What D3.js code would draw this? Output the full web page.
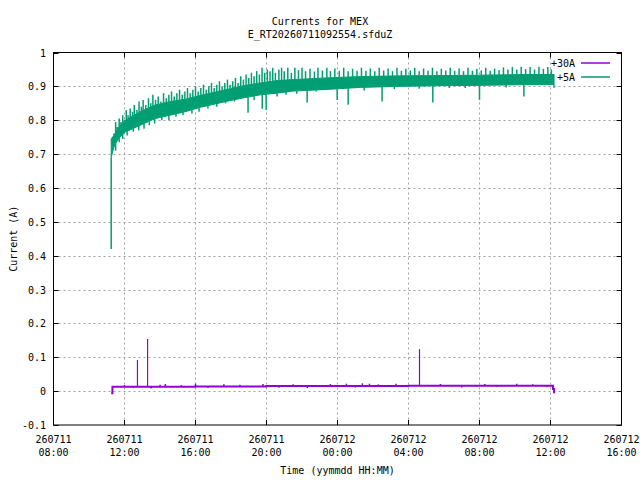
<!DOCTYPE html>
<html>
<head>
<meta charset="utf-8">
<script src="https://cdn.jsdelivr.net/npm/d3@7"></script>
<style>
  body { margin: 0; background: #fff; }
  text { font-family: "DejaVu Sans Mono", monospace; font-size: 10px; fill: #000; }
</style>
</head>
<body>
<svg id="chart" width="640" height="480"></svg>
<script>
// hours since 260711 00:00
const xTicks = [8, 12, 16, 20, 24, 28, 32, 36, 40];
const yTicks = [-0.1, 0, 0.1, 0.2, 0.3, 0.4, 0.5, 0.6, 0.7, 0.8, 0.9, 1];

// +5A: dense band (solid core) plus the spikes sticking out of it
const coreT  = [11.25, 11.4, 11.65, 12.04, 12.88, 13.73, 14.57, 15.42, 16.26, 17.11, 17.95, 18.8, 19.65, 20.6, 21.5, 23.4, 25.3, 27.5, 30, 32, 34.5, 36.2];
const coreLo = [0.69, 0.72, 0.745, 0.765, 0.785, 0.805, 0.815, 0.825, 0.838, 0.848, 0.858, 0.867, 0.875, 0.88, 0.886, 0.891, 0.897, 0.90, 0.902, 0.903, 0.905, 0.905];
const coreHi = [0.745, 0.755, 0.78, 0.80, 0.825, 0.845, 0.855, 0.862, 0.873, 0.883, 0.893, 0.903, 0.91, 0.917, 0.92, 0.925, 0.929, 0.931, 0.932, 0.933, 0.935, 0.935];

const greenUp = [
  [11.4, 0.76], [11.5, 0.795], [11.58, 0.78], [11.7, 0.805], [11.8, 0.795], [11.9, 0.815], [12.0, 0.80],
  [12.1, 0.83], [12.2, 0.815], [12.32, 0.835], [12.45, 0.825], [12.55, 0.845], [12.7, 0.83], [12.82, 0.855],
  [12.95, 0.84], [13.05, 0.86], [13.2, 0.845], [13.35, 0.865], [13.48, 0.85], [13.6, 0.875], [13.75, 0.86],
  [13.9, 0.87], [14.05, 0.855], [14.2, 0.88], [14.35, 0.865], [14.5, 0.875], [14.65, 0.885], [14.8, 0.87],
  [14.95, 0.88], [15.1, 0.89], [15.25, 0.875], [15.4, 0.885], [15.55, 0.895], [15.7, 0.88], [15.85, 0.89],
  [16.0, 0.90], [16.15, 0.885], [16.3, 0.895], [16.45, 0.905], [16.6, 0.89], [16.75, 0.90], [16.9, 0.91],
  [17.05, 0.895], [17.2, 0.905], [17.35, 0.915], [17.5, 0.90], [17.65, 0.91], [17.8, 0.92], [17.95, 0.905],
  [18.1, 0.915], [18.25, 0.925], [18.4, 0.91], [18.55, 0.93], [18.7, 0.92], [18.85, 0.935], [19.0, 0.925],
  [19.15, 0.94], [19.3, 0.93], [19.45, 0.945], [19.6, 0.935], [19.75, 0.955], [19.9, 0.94], [20.05, 0.95],
  [20.2, 0.945], [20.35, 0.955], [20.5, 0.94], [20.7, 0.95], [20.85, 0.955], [21.0, 0.945], [21.2, 0.955],
  [21.4, 0.94], [21.6, 0.955], [21.8, 0.948], [22.0, 0.955], [22.2, 0.945], [22.45, 0.952], [22.7, 0.944],
  [22.9, 0.955], [23.15, 0.947], [23.4, 0.955], [23.6, 0.945], [23.85, 0.953], [24.1, 0.946], [24.35, 0.955],
  [24.6, 0.945], [24.85, 0.952], [25.1, 0.946], [25.35, 0.955], [25.6, 0.946], [25.85, 0.953], [26.1, 0.945],
  [26.35, 0.955], [26.6, 0.947], [26.85, 0.953], [27.1, 0.945], [27.35, 0.955], [27.6, 0.946], [27.85, 0.952],
  [28.1, 0.947], [28.35, 0.955], [28.6, 0.945], [28.85, 0.953], [29.1, 0.946], [29.35, 0.955], [29.6, 0.945],
  [29.85, 0.952], [30.1, 0.947], [30.35, 0.955], [30.6, 0.946], [30.85, 0.953], [31.1, 0.945], [31.35, 0.955],
  [31.6, 0.946], [31.85, 0.952], [32.1, 0.947], [32.35, 0.955], [32.6, 0.946], [32.85, 0.953], [33.1, 0.948],
  [33.35, 0.956], [33.6, 0.95], [33.85, 0.957], [34.1, 0.95], [34.35, 0.958], [34.6, 0.951], [34.85, 0.957],
  [35.1, 0.95], [35.35, 0.958], [35.6, 0.952], [35.85, 0.957], [36.05, 0.95]
];
const greenDown = [
  [11.25, 0.42], [11.5, 0.71], [11.7, 0.735], [11.9, 0.745], [12.15, 0.755], [12.5, 0.766], [12.8, 0.77],
  [13.1, 0.775], [13.4, 0.785], [13.7, 0.79], [14.1, 0.80], [14.5, 0.80], [14.9, 0.81], [15.3, 0.815],
  [15.8, 0.82], [16.2, 0.825], [16.7, 0.835], [17.2, 0.84], [17.7, 0.85], [18.2, 0.855], [18.96, 0.822],
  [19.3, 0.86], [19.76, 0.834], [19.98, 0.83], [20.6, 0.87], [21.1, 0.875], [21.7, 0.878], [22.29, 0.852],
  [22.8, 0.885], [23.98, 0.86], [24.6, 0.846], [25.5, 0.888], [26.51, 0.855], [27.2, 0.892], [28.6, 0.893],
  [29.37, 0.852], [30.3, 0.895], [31.2, 0.895], [32.0, 0.86], [33.5, 0.897], [34.5, 0.87], [36.2, 0.896]
];

// +30A
const purpleT = [11.25, 11.3, 11.32, 13, 16, 20, 24, 28, 32, 36.1, 36.14, 36.2];
const purpleV = [-0.006, -0.006, 0.013, 0.013, 0.014, 0.015, 0.015, 0.016, 0.016, 0.016, 0.006, -0.006];
const purpleSpikes = [[12.73, 0.092], [13.3, 0.154], [28.62, 0.124]];
const purpleNoise = [
  [12.0, 0.018], [12.5, 0.009], [13.5, 0.008], [14.0, 0.019], [14.3, 0.021], [15.2, 0.018], [16.0, 0.022],
  [16.7, 0.009], [17.6, 0.02], [18.5, 0.019], [19.8, 0.021], [20.7, 0.010], [21.5, 0.02], [22.3, 0.009],
  [23.6, 0.021], [24.5, 0.022], [25.0, 0.011], [25.4, 0.023], [25.8, 0.022], [26.3, 0.02], [27.3, 0.022],
  [29.8, 0.021], [31.0, 0.011], [32.3, 0.021], [33.0, 0.012], [34.1, 0.022], [35.0, 0.02], [35.8, 0.012]
];

const seriesNames = ["+30A", "+5A"];
const seriesColors = ["#9400d3", "#009e73"];

const svg = d3.select("#chart");
const plotLeft = 53.5, plotRight = 621.5, plotTop = 52.5, plotBottom = 425;

const x = d3.scaleLinear().domain([8, 40]).range([plotLeft, plotRight]);
const y = d3.scaleLinear().domain([-0.1, 1]).range([plotBottom, plotTop]);

const hiAt = d3.scaleLinear().domain(coreT).range(coreHi).clamp(true);
const loAt = d3.scaleLinear().domain(coreT).range(coreLo).clamp(true);
const baseAt = d3.scaleLinear().domain(purpleT).range(purpleV).clamp(true);

function fmtDay(h) {
  return String(260711 + Math.floor(h / 24));
}
function fmtTime(h) {
  return String(h % 24).padStart(2, "0") + ":00";
}

// grid
svg.append("g").selectAll("line")
  .data(xTicks.slice(1, -1))
  .enter().append("line")
  .attr("x1", d => x(d)).attr("x2", d => x(d))
  .attr("y1", plotTop).attr("y2", plotBottom)
  .attr("stroke", "#a0a0a0").attr("stroke-dasharray", "2,3");

svg.append("g").selectAll("line")
  .data(yTicks.slice(1, -1))
  .enter().append("line")
  .attr("x1", plotLeft).attr("x2", plotRight)
  .attr("y1", d => Math.round(y(d)) + 0.5).attr("y2", d => Math.round(y(d)) + 0.5)
  .attr("stroke", "#a0a0a0").attr("stroke-dasharray", "2,3");

// +30A
const plot = svg.append("g");

plot.append("path")
  .datum(purpleT.map((t, i) => [t, purpleV[i]]))
  .attr("d", d3.line().x(d => x(d[0])).y(d => y(d[1])).curve(d3.curveStepAfter))
  .attr("fill", "none")
  .attr("stroke", seriesColors[0])
  .attr("stroke-width", 2);

plot.selectAll(".p-noise")
  .data(purpleNoise)
  .enter().append("line")
  .attr("class", "p-noise")
  .attr("x1", d => x(d[0])).attr("x2", d => x(d[0]))
  .attr("y1", d => y(baseAt(d[0]))).attr("y2", d => y(d[1]))
  .attr("stroke", seriesColors[0]).attr("stroke-width", 1.5);

plot.selectAll(".p-spike")
  .data(purpleSpikes)
  .enter().append("line")
  .attr("class", "p-spike")
  .attr("x1", d => x(d[0])).attr("x2", d => x(d[0]))
  .attr("y1", d => y(baseAt(d[0]))).attr("y2", d => y(d[1]))
  .attr("stroke", seriesColors[0]).attr("stroke-width", 1.2);

// +5A
plot.append("path")
  .datum(coreT.map((t, i) => [t, coreLo[i], coreHi[i]]))
  .attr("d", d3.area().x(d => x(d[0])).y0(d => y(d[1])).y1(d => y(d[2])))
  .attr("fill", seriesColors[1])
  .attr("stroke", seriesColors[1])
  .attr("stroke-width", 1);

plot.selectAll(".g-up")
  .data(greenUp)
  .enter().append("line")
  .attr("class", "g-up")
  .attr("x1", d => x(d[0])).attr("x2", d => x(d[0]))
  .attr("y1", d => y(hiAt(d[0]))).attr("y2", d => y(d[1]))
  .attr("stroke", seriesColors[1]).attr("stroke-width", 1.5);

plot.selectAll(".g-down")
  .data(greenDown)
  .enter().append("line")
  .attr("class", "g-down")
  .attr("x1", d => x(d[0])).attr("x2", d => x(d[0]))
  .attr("y1", d => y(loAt(d[0]))).attr("y2", d => y(d[1]))
  .attr("stroke", seriesColors[1]).attr("stroke-width", 1.5);

// border and tics on all four sides
svg.append("rect")
  .attr("x", plotLeft).attr("y", plotTop)
  .attr("width", plotRight - plotLeft).attr("height", plotBottom - plotTop)
  .attr("fill", "none").attr("stroke", "#000").attr("stroke-width", 1);

const tics = svg.append("g").attr("stroke", "#000");
xTicks.forEach(t => {
  tics.append("line").attr("x1", x(t)).attr("x2", x(t)).attr("y1", plotBottom).attr("y2", plotBottom - 5);
  tics.append("line").attr("x1", x(t)).attr("x2", x(t)).attr("y1", plotTop).attr("y2", plotTop + 5);
});
yTicks.forEach(v => {
  const yy = Math.round(y(v)) + 0.5;
  tics.append("line").attr("x1", plotLeft).attr("x2", plotLeft + 5).attr("y1", yy).attr("y2", yy);
  tics.append("line").attr("x1", plotRight).attr("x2", plotRight - 5).attr("y1", yy).attr("y2", yy);
});

// tick labels
svg.append("g").selectAll("text")
  .data(yTicks)
  .enter().append("text")
  .attr("x", 46)
  .attr("y", d => y(d) + 4)
  .attr("text-anchor", "end")
  .text(d => String(+d.toFixed(1)));

const xLab = svg.append("g").selectAll("g")
  .data(xTicks)
  .enter().append("g")
  .attr("transform", d => `translate(${x(d)},0)`);
xLab.append("text").attr("y", 443).attr("text-anchor", "middle").text(d => fmtDay(d));
xLab.append("text").attr("y", 456).attr("text-anchor", "middle").text(d => fmtTime(d));

// titles
svg.append("text").attr("x", 320).attr("y", 25).attr("text-anchor", "middle").text("Currents for MEX");
svg.append("text").attr("x", 320).attr("y", 38).attr("text-anchor", "middle").text("E_RT20260711092554.sfduZ");
svg.append("text").attr("x", (plotLeft + plotRight) / 2).attr("y", 474).attr("text-anchor", "middle").text("Time (yymmdd HH:MM)");
svg.append("text")
  .attr("transform", `translate(17,${(plotTop + plotBottom) / 2}) rotate(-90)`)
  .attr("text-anchor", "middle")
  .text("Current (A)");

// legend
const legend = svg.append("g");
seriesNames.forEach((name, i) => {
  const ly = 63 + i * 14;
  legend.append("text").attr("x", 575).attr("y", ly + 4).attr("text-anchor", "end").text(name);
  legend.append("line")
    .attr("x1", 581).attr("x2", 610).attr("y1", ly).attr("y2", ly)
    .attr("stroke", seriesColors[i]).attr("stroke-width", 1.5);
});
</script>
</body>
</html>
